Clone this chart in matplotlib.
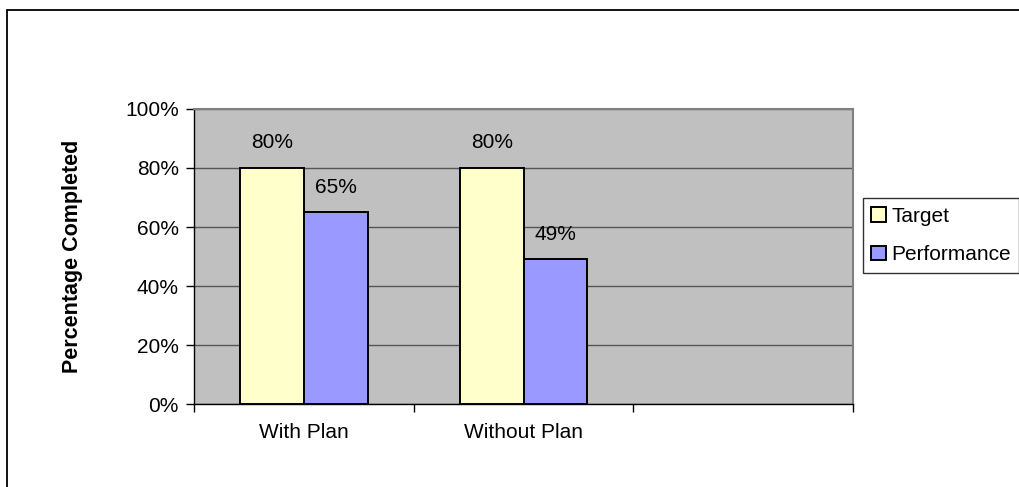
import matplotlib.pyplot as plt
from matplotlib.patches import Rectangle
from matplotlib.ticker import PercentFormatter

plt.rcParams['font.family'] = ['Liberation Sans', 'DejaVu Sans']

categories = ['With Plan', 'Without Plan', '']
target = [80, 80]
performance = [65, 49]

fig = plt.figure(figsize=(10.19, 4.87), dpi=100)
ax = fig.add_axes([0.1904, 0.1704, 0.6467, 0.6058])
ax.set_facecolor('#C0C0C0')

# chart border (runs off the right and bottom of the image)
fig.patches.append(Rectangle((0.0069, -0.2), 1.5, 0.2 + 0.9795, transform=fig.transFigure,
                             fill=False, edgecolor='black', linewidth=1.3))

w = 0.29
xs = list(range(len(target)))
b1 = ax.bar([x - w / 2 for x in xs], target, w, color='#FFFFCC', edgecolor='black',
            linewidth=1.4, label='Target', zorder=3)
b2 = ax.bar([x + w / 2 for x in xs], performance, w, color='#9999FF', edgecolor='black',
            linewidth=1.4, label='Performance', zorder=3)

for bars, vals in ((b1, target), (b2, performance)):
    for rect, v in zip(bars, vals):
        ax.annotate(f'{v}%', (rect.get_x() + rect.get_width() / 2, v),
                    xytext=(0, 18), textcoords='offset points',
                    ha='center', va='center', fontsize=15)

ax.set_xlim(-0.5, len(categories) - 0.5)
ax.set_ylim(0, 100)
ax.set_yticks(range(0, 101, 20))
ax.yaxis.set_major_formatter(PercentFormatter(decimals=0))
ax.set_xticks([i - 0.5 for i in range(len(categories) + 1)])
ax.set_xticklabels([])
ax.set_xticks(range(len(categories)), minor=True)
ax.set_xticklabels(categories, minor=True, fontsize=15)
ax.tick_params(axis='x', which='minor', length=0, pad=14)
ax.tick_params(axis='x', which='major', length=6, width=1, direction='out')
ax.tick_params(axis='y', length=6, width=1, direction='out', labelsize=15, pad=5)

ax.grid(axis='y', color='#555555', linewidth=1, zorder=1)
ax.set_axisbelow(True)
for side in ('top', 'right'):
    ax.spines[side].set_color('#808080')
    ax.spines[side].set_linewidth(1.5)
for side in ('left', 'bottom'):
    ax.spines[side].set_color('black')
    ax.spines[side].set_linewidth(1)

ax.set_ylabel('Percentage Completed', fontsize=15.5, fontweight='bold', labelpad=30)

leg = fig.legend(loc='upper left', bbox_to_anchor=(0.847, 0.593), fontsize=15,
                 frameon=True, fancybox=False, edgecolor='black', borderpad=0.4,
                 handlelength=0.7, handleheight=0.7, handletextpad=0.25,
                 labelspacing=0.95, borderaxespad=0)
leg.get_frame().set_linewidth(1)

fig.savefig('out.png', dpi=100)
